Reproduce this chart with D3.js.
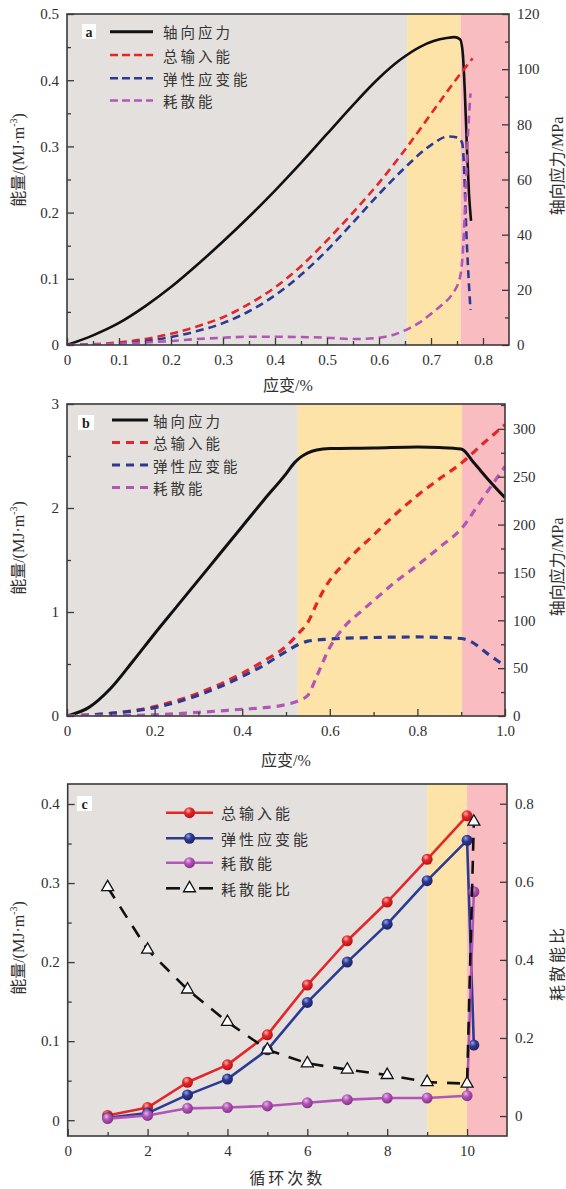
<!DOCTYPE html>
<html><head><meta charset="utf-8">
<script src="https://cdn.jsdelivr.net/npm/d3@7"></script>
<style>body{margin:0;background:#fff}svg{display:block}</style>
</head><body>
<svg id="chart" width="566" height="1189"></svg>
<script>
// ---------------- Panel a data ----------------
const aStressStrain = [0,0.05,0.1,0.15,0.2,0.25,0.3,0.35,0.4,0.45,0.5,0.55,0.6,0.64,0.68,0.705,0.73,0.745,0.756,0.761,0.765,0.769,0.773,0.777];
const aStress       = [0,3.5,8,14,21,29,37.5,46.5,56,66,76.5,87,96.8,103.3,108.2,110.2,111.3,111.6,110.8,106,92,72,55,45];
const aTotalStrain  = [0,0.05,0.1,0.15,0.2,0.25,0.3,0.35,0.4,0.45,0.5,0.55,0.6,0.65,0.7,0.75,0.78];
const aTotal        = [0,0.001,0.004,0.009,0.017,0.028,0.042,0.062,0.087,0.119,0.158,0.2,0.245,0.295,0.349,0.403,0.433];
const aElasticStrain= [0,0.05,0.1,0.15,0.2,0.25,0.3,0.35,0.4,0.45,0.5,0.55,0.6,0.65,0.7,0.733,0.752,0.76,0.764,0.767,0.771,0.776];
const aElastic      = [0,0.0005,0.002,0.006,0.012,0.021,0.033,0.051,0.075,0.106,0.143,0.185,0.228,0.268,0.302,0.315,0.313,0.305,0.26,0.19,0.12,0.053];
const aDissStrain   = [0,0.05,0.1,0.15,0.2,0.25,0.3,0.35,0.4,0.45,0.5,0.55,0.6,0.63,0.66,0.68,0.7,0.72,0.74,0.756,0.762,0.766,0.77,0.776];
const aDiss         = [0,0.0005,0.002,0.004,0.006,0.009,0.011,0.0125,0.0125,0.012,0.011,0.009,0.011,0.016,0.026,0.035,0.047,0.06,0.076,0.103,0.15,0.22,0.3,0.38];
const aBands        = [[0,0.654],[0.654,0.757],[0.757,0.85]];
const aXTicks = [0,0.1,0.2,0.3,0.4,0.5,0.6,0.7,0.8];
const aXMinor = [0.05,0.15,0.25,0.35,0.45,0.55,0.65,0.75,0.85];
const aYTicks = [0,0.1,0.2,0.3,0.4,0.5];
const aYMinor = [0.05,0.15,0.25,0.35,0.45];
const aRTicks = [0,20,40,60,80,100,120];
const aRMinor = [10,30,50,70,90,110];

// ---------------- Panel b data ----------------
const bStressStrain = [0,0.05,0.1,0.15,0.2,0.25,0.3,0.35,0.4,0.45,0.5,0.52,0.535,0.55,0.57,0.6,0.7,0.8,0.85,0.9,0.93,0.96,1.0];
const bStress       = [0,9,29,57,86,114,142,170,198,226,253,265,271,275,278,279.5,280,281,280.5,279,264,248,228];
const bTotalStrain  = [0,0.1,0.2,0.3,0.4,0.45,0.5,0.53,0.55,0.57,0.59,0.61,0.63,0.65,0.7,0.75,0.8,0.85,0.9,0.95,1.0];
const bTotal        = [0,0.025,0.09,0.22,0.41,0.53,0.67,0.8,0.9,1.08,1.24,1.36,1.45,1.54,1.74,1.94,2.12,2.28,2.43,2.62,2.8];
const bElasticStrain= [0,0.1,0.2,0.3,0.4,0.45,0.5,0.53,0.55,0.6,0.7,0.8,0.9,0.92,0.96,1.0];
const bElastic      = [0,0.025,0.08,0.2,0.38,0.49,0.62,0.69,0.72,0.74,0.755,0.76,0.745,0.72,0.6,0.48];
const bDissStrain   = [0,0.1,0.2,0.3,0.4,0.45,0.5,0.53,0.55,0.57,0.6,0.62,0.64,0.67,0.7,0.75,0.8,0.85,0.9,0.95,1.0];
const bDiss         = [0,0.003,0.012,0.035,0.065,0.08,0.11,0.15,0.2,0.38,0.66,0.79,0.89,1.0,1.11,1.29,1.45,1.62,1.8,2.1,2.4];
const bBands        = [[0,0.527],[0.527,0.902],[0.902,1.0]];
const bXTicks = [0,0.2,0.4,0.6,0.8,1.0];
const bXMinor = [0.1,0.3,0.5,0.7,0.9];
const bYTicks = [0,1,2,3];
const bYMinor = [0.5,1.5,2.5];
const bRTicks = [0,50,100,150,200,250,300];
const bRMinor = [25,75,125,175,225,275,325];

// ---------------- Panel c data ----------------
const cCycles       = [1,2,3,4,5,6,7,8,9,10];
const cCyclesFail   = [1,2,3,4,5,6,7,8,9,10,10.17];
const cTotal        = [0.006,0.016,0.048,0.07,0.108,0.171,0.227,0.276,0.33,0.385];
const cElastic      = [0.003,0.009,0.032,0.052,0.089,0.149,0.2,0.248,0.303,0.354,0.095];
const cDiss         = [0.002,0.006,0.015,0.016,0.018,0.022,0.026,0.028,0.028,0.031,0.289];
const cRatio        = [0.586,0.426,0.324,0.241,0.17,0.135,0.119,0.105,0.087,0.083,0.754];
const cBands        = [[0,9],[9,10],[10,11]];
const cXTicks = [0,2,4,6,8,10];
const cXMinor = [1,3,5,7,9,11];
const cYTicks = [0,0.1,0.2,0.3,0.4];
const cYMinor = [0.05,0.15,0.25,0.35];
const cRTicks = [0,0.2,0.4,0.6,0.8];
const cRMinor = [0.1,0.3,0.5,0.7];

// legend labels
const legendABLabels = ["轴向应力","总输入能","弹性应变能","耗散能"];
const legendCLabels  = ["总输入能","弹性应变能","耗散能","耗散能比"];

// ---------------- styles ----------------
const COL = {red:"#e52629", blue:"#2d3a92", purple:"#b256b6", black:"#111111",
             gray:"#e4e0de", yellow:"#fde3a8", pink:"#f8bcc1", axis:"#3a3a3a", text:"#2e2e2e"};
const bandColors = [COL.gray, COL.yellow, COL.pink];
const SERIF = "'Liberation Serif','Noto Sans CJK SC',serif";
const CJK = "'Noto Sans CJK SC','Liberation Serif',sans-serif";

const svg = d3.select("#chart");
const defs = svg.append("defs");
svg.append("rect").attr("width",566).attr("height",1189).attr("fill","#fff");

function zip(xs, ys){ return xs.map((v,i)=>[v, ys[i]]); }
const fmt1 = v => v===0 ? "0" : v.toFixed(1);
const fmt0 = v => String(v);

let clipId = 0;
function makePanel(cfg){
  const x  = d3.scaleLinear().domain(cfg.xDomain).range([cfg.L, cfg.R]);
  const yL = d3.scaleLinear().domain(cfg.yLDomain).range([cfg.B, cfg.T]);
  const yR = d3.scaleLinear().domain(cfg.yRDomain).range([cfg.B, cfg.T]);
  const g = svg.append("g");
  cfg.bands.forEach((b,i)=>{
    g.append("rect").attr("x", x(b[0])).attr("y", cfg.T)
      .attr("width", x(b[1]) - x(b[0])).attr("height", cfg.B - cfg.T)
      .attr("fill", bandColors[i]);
  });
  const id = "clip" + (clipId++);
  defs.append("clipPath").attr("id", id).append("rect")
    .attr("x", cfg.L).attr("y", cfg.T).attr("width", cfg.R - cfg.L).attr("height", cfg.B - cfg.T);
  const plot = g.append("g").attr("clip-path", `url(#${id})`);
  const top = svg.append("g");
  return {cfg, x, yL, yR, g, plot, top};
}

function styleAxis(sel){
  sel.select(".domain").remove();
  sel.selectAll(".tick line").attr("stroke", COL.axis).attr("stroke-width", 1.3);
  sel.selectAll(".tick text").attr("fill", COL.text).attr("font-family", SERIF).attr("font-size", 15);
}

function drawAxes(P, t){
  const c = P.cfg;
  const xa = P.top.append("g").attr("transform", `translate(0,${c.B})`)
    .call(d3.axisBottom(P.x).tickValues(t.xMaj).tickSize(-7).tickPadding(9).tickFormat(t.xFmt));
  styleAxis(xa);
  const xm = P.top.append("g").attr("transform", `translate(0,${c.B})`)
    .call(d3.axisBottom(P.x).tickValues(t.xMin.filter(v=>v>c.xDomain[0] && v<c.xDomain[1])).tickSize(-4).tickFormat(""));
  styleAxis(xm);
  const ya = P.top.append("g").attr("transform", `translate(${c.L},0)`)
    .call(d3.axisLeft(P.yL).tickValues(t.yMaj).tickSize(-7).tickPadding(8).tickFormat(t.yFmt));
  styleAxis(ya);
  const ym = P.top.append("g").attr("transform", `translate(${c.L},0)`)
    .call(d3.axisLeft(P.yL).tickValues(t.yMin).tickSize(-4).tickFormat(""));
  styleAxis(ym);
  const ra = P.top.append("g").attr("transform", `translate(${c.R},0)`)
    .call(d3.axisRight(P.yR).tickValues(t.rMaj).tickSize(-7).tickPadding(8).tickFormat(t.rFmt));
  styleAxis(ra);
  const rm = P.top.append("g").attr("transform", `translate(${c.R},0)`)
    .call(d3.axisRight(P.yR).tickValues(t.rMin.filter(v=>v>c.yRDomain[0] && v<c.yRDomain[1])).tickSize(-4).tickFormat(""));
  styleAxis(rm);
  P.top.append("rect").attr("x", c.L).attr("y", c.T).attr("width", c.R - c.L).attr("height", c.B - c.T)
    .attr("fill", "none").attr("stroke", COL.axis).attr("stroke-width", 1.6);
  const lt = P.top.append("text").attr("transform", `translate(18,${t.lTitleY}) rotate(-90)`)
    .attr("text-anchor","middle").attr("dominant-baseline","central")
    .attr("font-family", SERIF).attr("font-size", 16).attr("fill", COL.text);
  lt.append("tspan").text("能量/(MJ·m");
  lt.append("tspan").attr("font-size", 10).attr("baseline-shift","45%").text("-3");
  lt.append("tspan").text(")");
  P.top.append("text").attr("transform", `translate(557,${t.rTitleY}) rotate(-90)`)
    .attr("text-anchor","middle").attr("dominant-baseline","central")
    .attr("font-family", SERIF).attr("font-size", 16).attr("fill", COL.text)
    .attr("letter-spacing", t.rSpacing || 0).text(t.rTitle);
  P.top.append("text").attr("x", (c.L + c.R)/2).attr("y", t.xTitleY)
    .attr("text-anchor","middle").attr("font-family", SERIF).attr("font-size", 16)
    .attr("fill", COL.text).attr("letter-spacing", t.xSpacing || 0).text(t.xTitle);
}

function panelLabel(P, letter, box){
  P.top.append("rect").attr("x", box[0]).attr("y", box[1]).attr("width", box[2]).attr("height", box[3]).attr("fill", "#fff");
  P.top.append("text").attr("x", box[0] + box[2]/2).attr("y", box[1] + box[3]/2 + 1)
    .attr("text-anchor","middle").attr("dominant-baseline","central")
    .attr("font-family", SERIF).attr("font-weight","bold").attr("font-size", 14).attr("fill", "#222").text(letter);
}

function curve(P, xs, ys, yScale, color, width, dash, curveType){
  const line = d3.line().x(d=>P.x(d[0])).y(d=>yScale(d[1])).curve(curveType || d3.curveMonotoneX);
  return P.plot.append("path").datum(zip(xs, ys)).attr("d", line)
    .attr("fill","none").attr("stroke", color).attr("stroke-width", width)
    .attr("stroke-dasharray", dash || null).attr("stroke-linejoin","round");
}

function legendAB(P, ys, x0, x1, tx, dash, w){
  const colors = [COL.black, COL.red, COL.blue, COL.purple];
  ys.forEach((y,i)=>{
    P.top.append("line").attr("x1", x0).attr("x2", x1).attr("y1", y).attr("y2", y)
      .attr("stroke", colors[i]).attr("stroke-width", i===0 ? 3 : w)
      .attr("stroke-dasharray", i===0 ? null : dash);
    P.top.append("text").attr("x", tx).attr("y", y).attr("dominant-baseline","central")
      .attr("font-family", CJK).attr("font-size", 14.5).attr("letter-spacing", 3)
      .attr("fill", "#333").text(legendABLabels[i]);
  });
}

// ======================= Panel a =======================
const PA = makePanel({L:67, R:509, T:14, B:345, xDomain:[0,0.85], yLDomain:[0,0.5], yRDomain:[0,120], bands:aBands});
curve(PA, aStressStrain, aStress, PA.yR, COL.black, 2.6);
curve(PA, aTotalStrain, aTotal, PA.yL, COL.red, 2.6, "8,5");
curve(PA, aElasticStrain, aElastic, PA.yL, COL.blue, 2.6, "8,5");
curve(PA, aDissStrain, aDiss, PA.yL, COL.purple, 2.6, "8,5");
drawAxes(PA, {xMaj:aXTicks, xMin:aXMinor, xFmt:fmt1, yMaj:aYTicks, yMin:aYMinor, yFmt:fmt1,
  rMaj:aRTicks, rMin:aRMinor, rFmt:fmt0, lTitleY:160, rTitleY:166, rTitle:"轴向应力/MPa",
  xTitleY:391, xTitle:"应变/%"});
panelLabel(PA, "a", [82,24,14,15]);
legendAB(PA, [31.7,55,78.3,100.5], 110, 153, 163, "8,4", 2.6);

// ======================= Panel b =======================
const PB = makePanel({L:67, R:505, T:404, B:716, xDomain:[0,1.0], yLDomain:[0,3], yRDomain:[0,326], bands:bBands});
curve(PB, bStressStrain, bStress, PB.yR, COL.black, 3);
curve(PB, bTotalStrain, bTotal, PB.yL, COL.red, 3.2, "8,6");
curve(PB, bElasticStrain, bElastic, PB.yL, COL.blue, 3.2, "8,6");
curve(PB, bDissStrain, bDiss, PB.yL, COL.purple, 3.2, "8,6");
drawAxes(PB, {xMaj:bXTicks, xMin:bXMinor, xFmt:fmt1, yMaj:bYTicks, yMin:bYMinor, yFmt:fmt0,
  rMaj:bRTicks, rMin:bRMinor, rFmt:fmt0, lTitleY:548, rTitleY:567, rTitle:"轴向应力/MPa",
  xTitleY:766, xTitle:"应变/%"});
panelLabel(PB, "b", [78,415,16,15]);
legendAB(PB, [420,442.5,465,487.5], 112, 148, 153, "8,6", 3.2);

// ======================= Panel c =======================
const PC = makePanel({L:67.7, R:507, T:784, B:1136, xDomain:[0,11], yLDomain:[-0.02,0.4253], yRDomain:[-0.0511,0.8505], bands:cBands});

function ballGradient(id, light, base, dark){
  const gr = defs.append("radialGradient").attr("id", id).attr("cx","40%").attr("cy","35%").attr("r","65%").attr("fx","38%").attr("fy","30%");
  gr.append("stop").attr("offset","0%").attr("stop-color", light);
  gr.append("stop").attr("offset","45%").attr("stop-color", base);
  gr.append("stop").attr("offset","100%").attr("stop-color", dark);
}
ballGradient("gRed", "#ffb3b3", COL.red, "#b31518");
ballGradient("gBlue", "#9aa6e8", COL.blue, "#1b2466");
ballGradient("gPurple", "#eab6ee", COL.purple, "#85338a");

function series(P, xs, ys, color, grad){
  curve(P, xs, ys, P.yL, color, 2.6, null, d3.curveLinear);
  P.plot.append("g").selectAll("circle").data(zip(xs, ys)).join("circle")
    .attr("cx", d=>P.x(d[0])).attr("cy", d=>P.yL(d[1])).attr("r", 5.5)
    .attr("fill", `url(#${grad})`);
}
series(PC, cCycles, cTotal, COL.red, "gRed");
series(PC, cCyclesFail, cElastic, COL.blue, "gBlue");
series(PC, cCyclesFail, cDiss, COL.purple, "gPurple");

const ratioLine = d3.line().x(d=>PC.x(d[0])).y(d=>PC.yR(d[1]));
PC.plot.append("path").datum(zip(cCyclesFail, cRatio)).attr("d", ratioLine)
  .attr("fill","none").attr("stroke","#111").attr("stroke-width",2.6).attr("stroke-dasharray","13,10");
const tri = d3.symbol().type(d3.symbolTriangle).size(62);
PC.plot.append("g").selectAll("path").data(zip(cCyclesFail, cRatio)).join("path")
  .attr("transform", d=>`translate(${PC.x(d[0])},${PC.yR(d[1])})`).attr("d", tri)
  .attr("fill","#fff").attr("stroke","#111").attr("stroke-width",1.3);

drawAxes(PC, {xMaj:cXTicks, xMin:cXMinor, xFmt:fmt0, yMaj:cYTicks, yMin:cYMinor, yFmt:fmt1,
  rMaj:cRTicks, rMin:cRMinor, rFmt:fmt1, lTitleY:948, rTitleY:963, rTitle:"耗散能比", rSpacing:3,
  xTitleY:1184, xTitle:"循环次数", xSpacing:3});
panelLabel(PC, "c", [77,796,15,15]);

const legC = [{c:COL.red, g:"gRed"},{c:COL.blue, g:"gBlue"},{c:COL.purple, g:"gPurple"},{c:"#111", g:null}];
const legCY = [812.7, 838.3, 862.7, 888.3];
legC.forEach((it,i)=>{
  const y = legCY[i];
  if (it.g){
    PC.top.append("line").attr("x1",166).attr("x2",213).attr("y1",y).attr("y2",y).attr("stroke",it.c).attr("stroke-width",2.6);
    PC.top.append("circle").attr("cx",189.5).attr("cy",y).attr("r",5.5).attr("fill",`url(#${it.g})`);
  } else {
    PC.top.append("line").attr("x1",166).attr("x2",180).attr("y1",y).attr("y2",y).attr("stroke",it.c).attr("stroke-width",2.6);
    PC.top.append("line").attr("x1",199).attr("x2",213).attr("y1",y).attr("y2",y).attr("stroke",it.c).attr("stroke-width",2.6);
    PC.top.append("path").attr("transform",`translate(189.5,${y})`).attr("d",tri).attr("fill","#fff").attr("stroke","#111").attr("stroke-width",1.3);
  }
  PC.top.append("text").attr("x",221).attr("y",y).attr("dominant-baseline","central")
    .attr("font-family", CJK).attr("font-size", 15).attr("letter-spacing", 3)
    .attr("fill","#333").text(legendCLabels[i]);
});
</script>
</body></html>
